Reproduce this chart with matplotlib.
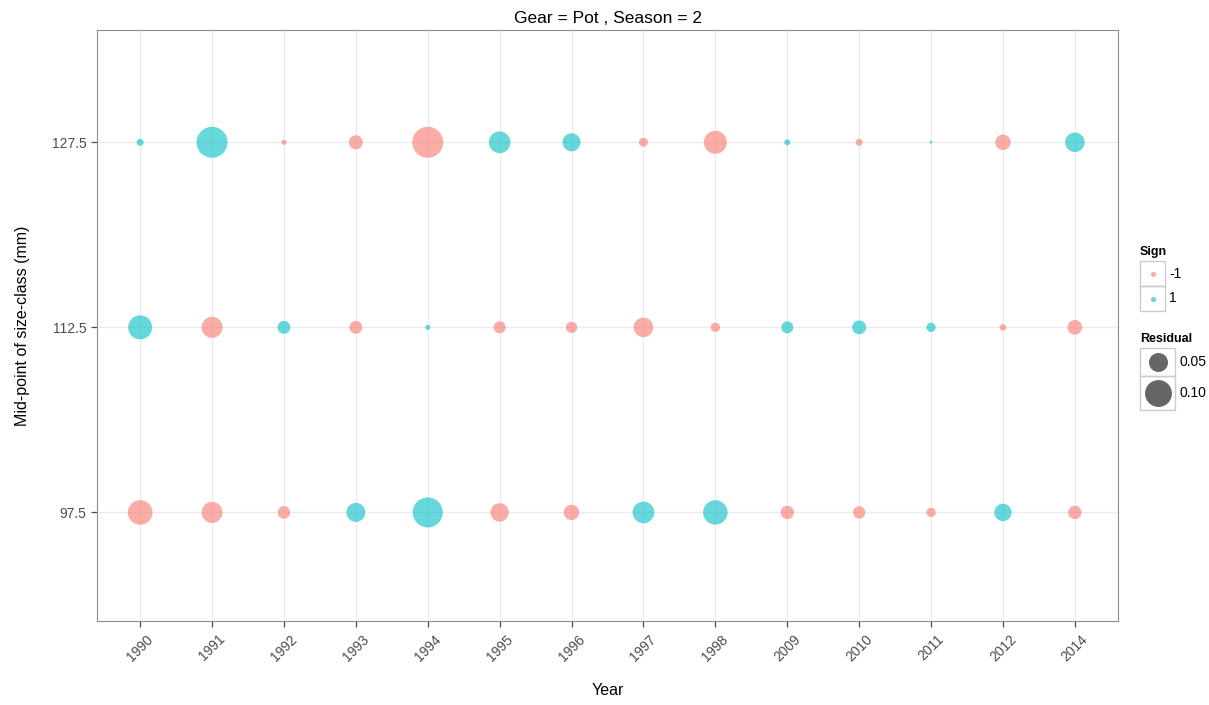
import matplotlib
matplotlib.use("Agg")
import matplotlib.pyplot as plt
import numpy as np

plt.rcParams["font.family"] = ["Liberation Sans", "DejaVu Sans"]

years = ["1990", "1991", "1992", "1993", "1994", "1995", "1996",
         "1997", "1998", "2009", "2010", "2011", "2012", "2014"]
size_classes = [97.5, 112.5, 127.5]

# residual magnitude per size class (rows follow size_classes)
resid_975 = [0.084, 0.061, 0.022, 0.050, 0.125, 0.047, 0.033,
             0.065, 0.083, 0.025, 0.021, 0.012, 0.042, 0.025]
resid_1125 = [0.080, 0.061, 0.023, 0.023, 0.0035, 0.020, 0.018,
              0.053, 0.012, 0.020, 0.027, 0.012, 0.006, 0.030]
resid_1275 = [0.0068, 0.133, 0.0035, 0.027, 0.133, 0.065, 0.045,
              0.011, 0.073, 0.005, 0.0068, 0.001, 0.033, 0.053]

sign_975 = [-1, -1, -1, 1, 1, -1, -1, 1, 1, -1, -1, -1, 1, -1]
sign_1125 = [1, -1, 1, -1, 1, -1, -1, -1, -1, 1, 1, 1, -1, -1]
sign_1275 = [1, 1, -1, -1, -1, 1, 1, -1, -1, 1, -1, 1, -1, 1]

legend_sizes = [0.05, 0.10]

RED = "#F8766D"
CYAN = "#00BFC4"
ALPHA = 0.6


def area(v):
    # marker area in pt^2, diameter proportional to sqrt(residual)
    return 3745 * np.asarray(v)


def main():
    fig = plt.figure(figsize=(12.09, 7.05), dpi=100)
    W, H = 1209, 705
    ax = fig.add_axes([97 / W, 1 - 621 / H, (1118 - 97) / W, (621 - 30) / H])

    x = np.arange(1, len(years) + 1)
    rows = [(97.5, resid_975, sign_975),
            (112.5, resid_1125, sign_1125),
            (127.5, resid_1275, sign_1275)]
    for y, res, sg in rows:
        cols = [RED if s < 0 else CYAN for s in sg]
        ax.scatter(x, np.full(len(x), y), s=area(res), c=cols,
                   alpha=ALPHA, linewidths=0, zorder=3)

    ax.set_xlim(0.4, len(years) + 0.6)
    ax.set_ylim(88.7, 136.6)
    ax.set_xticks(x)
    ax.set_xticklabels(years, rotation=45, ha="center", va="top",
                       fontsize=10, color="#4d4d4d")
    ax.set_yticks(size_classes)
    ax.set_yticklabels([str(v) for v in size_classes], fontsize=10,
                       color="#4d4d4d")
    ax.tick_params(length=4, color="#4d4d4d", width=0.9)
    ax.tick_params(axis="x", pad=4)
    ax.grid(True, color="#ebebeb", linewidth=0.9, zorder=0)
    ax.set_axisbelow(True)
    for sp in ax.spines.values():
        sp.set_color("#8c8c8c")
        sp.set_linewidth(0.8)

    ax.set_title("Gear = Pot , Season = 2", fontsize=12.5, pad=5)
    ax.set_xlabel("Year", fontsize=11.5, labelpad=14)
    ax.set_ylabel("Mid-point of size-class (mm)", fontsize=11.5, labelpad=16)

    # legend drawn in pixel coordinates
    lax = fig.add_axes([0, 0, 1, 1])
    lax.set_xlim(0, W)
    lax.set_ylim(H, 0)
    lax.axis("off")

    lax.text(1140, 252, "Sign", fontsize=9, fontweight="bold", va="center")
    sign_labels = ["-1", "1"]
    for i, (lab, col) in enumerate(zip(sign_labels, [RED, CYAN])):
        y0 = 261 + i * 25
        lax.add_patch(plt.Rectangle((1140, y0), 25, 25, fill=False,
                                    edgecolor="#cccccc", linewidth=1))
        lax.scatter([1152.5], [y0 + 12.5], s=14, c=col, alpha=ALPHA,
                    linewidths=0)
        lax.text(1169, y0 + 12.5, lab, fontsize=10, va="center")

    lax.text(1140, 339, "Residual", fontsize=9, fontweight="bold",
             va="center")
    box_h = [28, 34]
    y0 = 348
    for v, h in zip(legend_sizes, box_h):
        lax.add_patch(plt.Rectangle((1140, y0), 35, h, fill=False,
                                    edgecolor="#cccccc", linewidth=1))
        lax.scatter([1157.5], [y0 + h / 2], s=area(v), c="#333333",
                    alpha=0.75, linewidths=0)
        lax.text(1179, y0 + h / 2, f"{v:.2f}", fontsize=10, va="center")
        y0 += h

    fig.savefig("out.png", dpi=100)


if __name__ == "__main__":
    main()
